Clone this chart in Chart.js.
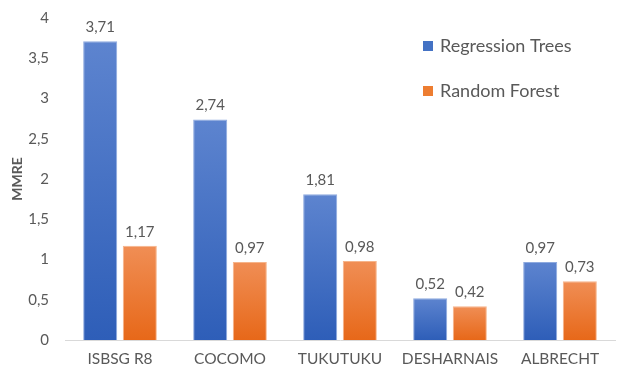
<!DOCTYPE html>
<html>
<head>
<meta charset="utf-8">
<script src="https://cdn.jsdelivr.net/npm/chart.js@4/dist/chart.umd.min.js"></script>
<style>
  html, body { margin: 0; padding: 0; background: #fff; }
  #wrap { width: 617px; height: 373px; }
</style>
</head>
<body>
<div id="wrap"><canvas id="c" width="617" height="373"></canvas></div>
<script>
const categories = ['ISBSG R8', 'COCOMO', 'TUKUTUKU', 'DESHARNAIS', 'ALBRECHT'];
const regressionTrees = [3.71, 2.74, 1.81, 0.52, 0.97];
const randomForest = [1.17, 0.97, 0.98, 0.42, 0.73];
const yTicks = [0, 0.5, 1, 1.5, 2, 2.5, 3, 3.5, 4];
const seriesNames = ['Regression Trees', 'Random Forest'];

const FONT = 'Lato, "Open Sans", sans-serif';
const TEXT = '#595959';
const fmt = v => String(v).replace('.', ',');

// Each bar gets its own vertical gradient, lighter at the top.
function barGradient(top, bottom) {
  return ctx => {
    const chart = ctx.chart;
    const y = chart.scales && chart.scales.y;
    if (!y || !chart.chartArea || ctx.raw === undefined) return bottom;
    const y0 = y.getPixelForValue(0);
    const y1 = y.getPixelForValue(ctx.raw);
    if (!isFinite(y0) || !isFinite(y1) || y0 === y1) return bottom;
    const g = chart.ctx.createLinearGradient(0, y1, 0, y0);
    g.addColorStop(0, top);
    g.addColorStop(1, bottom);
    return g;
  };
}

const valueLabels = {
  id: 'valueLabels',
  afterDatasetsDraw(chart) {
    const c = chart.ctx;
    c.save();
    c.font = '15px ' + FONT;
    c.fillStyle = TEXT;
    c.textAlign = 'center';
    c.textBaseline = 'alphabetic';
    chart.data.datasets.forEach((ds, i) => {
      chart.getDatasetMeta(i).data.forEach((bar, j) => {
        c.fillText(fmt(ds.data[j]), bar.x, bar.y - 9);
      });
    });
    c.restore();
  }
};

const sideLegend = {
  id: 'sideLegend',
  afterDraw(chart) {
    const c = chart.ctx;
    const swatches = ['#4472c4', '#ed7d31'];
    c.save();
    c.font = '18px ' + FONT;
    c.textBaseline = 'middle';
    c.textAlign = 'left';
    seriesNames.forEach((name, i) => {
      const cy = 46 + i * 45;
      c.fillStyle = swatches[i];
      c.fillRect(423, cy - 5, 10, 10);
      c.fillStyle = TEXT;
      c.fillText(name, 440, cy);
    });
    c.restore();
  }
};

new Chart(document.getElementById('c'), {
  type: 'bar',
  data: {
    labels: categories,
    datasets: [
      {
        label: seriesNames[0],
        data: regressionTrees,
        backgroundColor: barGradient('#5d84cf', '#2e5eb8'),
        borderColor: '#8eaadf',
        borderWidth: 1
      },
      {
        label: seriesNames[1],
        data: randomForest,
        backgroundColor: barGradient('#f08e55', '#e76819'),
        borderColor: '#f6b48a',
        borderWidth: 1
      }
    ]
  },
  options: {
    responsive: false,
    animation: false,
    devicePixelRatio: 1,
    layout: { padding: { top: 18, right: 2, left: 0, bottom: 0 } },
    datasets: { bar: { categoryPercentage: 0.72, barPercentage: 0.86 } },
    plugins: { legend: { display: false }, tooltip: { enabled: false } },
    scales: {
      x: {
        grid: { display: false, drawTicks: false },
        border: { display: true, color: '#d9d9d9', width: 1 },
        ticks: { color: TEXT, font: { family: FONT, size: 15.5 }, padding: 10 },
        afterFit(s) { s.height = 33; }
      },
      y: {
        min: 0,
        max: 4,
        afterBuildTicks(s) { s.ticks = yTicks.map(v => ({ value: v })); },
        grid: { display: false, drawTicks: false },
        border: { display: false },
        ticks: {
          color: TEXT,
          font: { family: FONT, size: 15, lineHeight: 1 },
          padding: 16,
          callback: v => fmt(v)
        },
        title: {
          display: true,
          text: 'MMRE',
          color: TEXT,
          font: { family: FONT, size: 14, weight: 'bold' },
          padding: { top: 9, bottom: 0 }
        },
        afterFit(s) { s.width = 65; s.paddingTop = 0; s.paddingBottom = 0; }
      }
    }
  },
  plugins: [valueLabels, sideLegend]
});
</script>
</body>
</html>
